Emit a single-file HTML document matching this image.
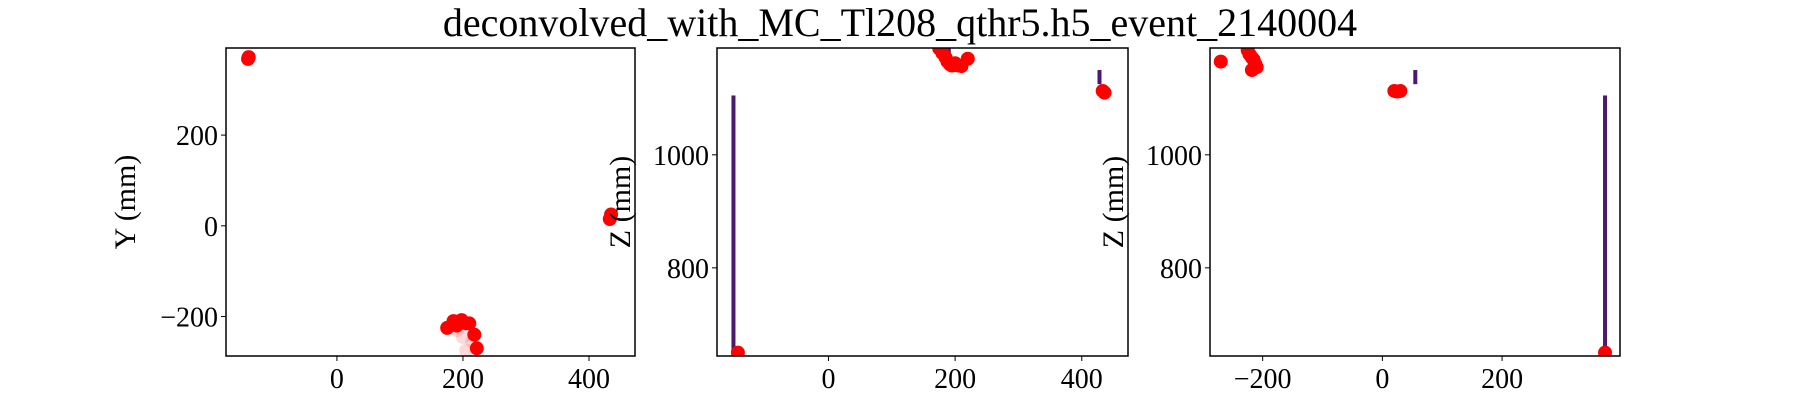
<!DOCTYPE html>
<html><head><meta charset="utf-8"><style>
body{margin:0;background:#fff;width:1800px;height:400px;overflow:hidden}
svg{font-family:"Liberation Serif",serif}
</style></head><body>
<svg id="chart" width="1800" height="400" xmlns="http://www.w3.org/2000/svg">
<text x="900" y="36" font-size="40" text-anchor="middle">deconvolved_with_MC_Tl208_qthr5.h5_event_2140004</text>
</svg>
<script>
// Panel 1: X vs Y
const p1X=[-140,-141,435,433,185,175,195,205,210,218,222,190,198];
const p1Y=[372,368,25,15,-210,-225,-210,-215,-215,-240,-270,-220,-208];
const p1FadeX=[200,215,205,190];
const p1FadeY=[-245,-255,-275,-230];
// Panel 2: X vs Z
const p2X=[-143,175,180,185,188,192,195,200,205,210,220,433,436];
const p2Z=[650,1188,1180,1172,1165,1160,1158,1162,1158,1157,1170,1113,1110];
const p2BarX=[-150,428,190,190];
const p2BarZ0=[648,1125,1168,1150];
const p2BarZ1=[1105,1150,1190,1160];
// Panel 3: Y vs Z
const p3X=[-270,-225,-222,-218,-215,-212,-210,-218,20,25,30,372];
const p3Z=[1165,1185,1178,1172,1168,1160,1155,1150,1113,1112,1113,650];
const p3BarX=[55,372];
const p3BarZ0=[1125,648];
const p3BarZ1=[1150,1105];
const ticks1X=[0,200,400], ticks1Y=[-200,0,200];
const ticks2X=[0,200,400], ticks2Y=[800,1000];
const ticks3X=[-200,0,200], ticks3Y=[800,1000];

const svg=document.getElementById('chart');
const NS='http://www.w3.org/2000/svg';
function mk(tag,attrs){const e=document.createElementNS(NS,tag);for(const k in attrs)e.setAttribute(k,attrs[k]);svg.appendChild(e);return e;}
function lin(d0,d1,r0,r1){return v=>r0+(v-d0)/(d1-d0)*(r1-r0);}
function panel(id,L,R,T,B,xd,yd,xt,yt,ylab,labX){
  const sx=lin(xd[0],xd[1],L,R), sy=lin(yd[0],yd[1],B,T);
  xt.forEach(t=>{const x=sx(t);
    const l=mk('line',{x1:x,x2:x,y1:B,y2:B+5,stroke:'#000'});
    
    
    const tx=mk('text',{x:x,y:B+32,'font-size':28,'text-anchor':'middle'});tx.textContent=(t<0?'\u2212'+(-t):t);
    
    });
  yt.forEach(t=>{const y=sy(t);
    const l=mk('line',{x1:L-5,x2:L,y1:y,y2:y,stroke:'#000'});
    
    
    const tx=mk('text',{x:L-8,y:y+10,'font-size':28,'text-anchor':'end'});tx.textContent=(t<0?'\u2212'+(-t):t);
    
    });
  const yl=mk('text',{x:labX,y:(T+B)/2,'font-size':30,'text-anchor':'middle',transform:`rotate(-90 ${labX} ${(T+B)/2})`});
  yl.textContent=ylab;
  
  
  return {sx,sy,L,R,T,B};
}
function frame(id,p){const r=mk('rect',{x:p.L,y:p.T,width:p.R-p.L,height:p.B-p.T,fill:'none',stroke:'#000','stroke-width':1.5});
  
  }
function clip(id,p){const c=document.createElementNS(NS,'clipPath');c.setAttribute('id','c'+id);
  const r=document.createElementNS(NS,'rect');r.setAttribute('x',p.L);r.setAttribute('y',p.T);r.setAttribute('width',p.R-p.L);r.setAttribute('height',p.B-p.T);c.appendChild(r);svg.appendChild(c);}
function dots(id,p,xs,ys,op){xs.forEach((v,i)=>{const c=mk('circle',{cx:p.sx(v),cy:p.sy(ys[i]),r:7,fill:'red','fill-opacity':op,'clip-path':'url(#c'+id+')'});
  
  });}
function bars(id,p,xs,z0,z1){xs.forEach((v,i)=>{const y0=p.sy(z1[i]),y1=p.sy(z0[i]);
  const r=mk('rect',{x:p.sx(v)-2,y:y0,width:4,height:y1-y0,fill:'#4b1a6e','clip-path':'url(#c'+id+')'});
  
  });}

const a=panel('xy',226,635,48,356,[-176,473],[-287,392],ticks1X,ticks1Y,'Y (mm)',135);
clip('xy',a);dots('xy',a,p1FadeX,p1FadeY,0.15);dots('xy',a,p1X,p1Y,1);frame('xy',a);
const b=panel('xz',717,1128,48,356,[-176,473],[644,1189],ticks2X,ticks2Y,'Z (mm)',630);
clip('xz',b);bars('xz',b,p2BarX,p2BarZ0,p2BarZ1);dots('xz',b,p2X,p2Z,1);frame('xz',b);
const c=panel('yz',1210,1620,48,356,[-288,397],[644,1189],ticks3X,ticks3Y,'Z (mm)',1123);
clip('yz',c);bars('yz',c,p3BarX,p3BarZ0,p3BarZ1);dots('yz',c,p3X,p3Z,1);frame('yz',c);
</script>
</body></html>
